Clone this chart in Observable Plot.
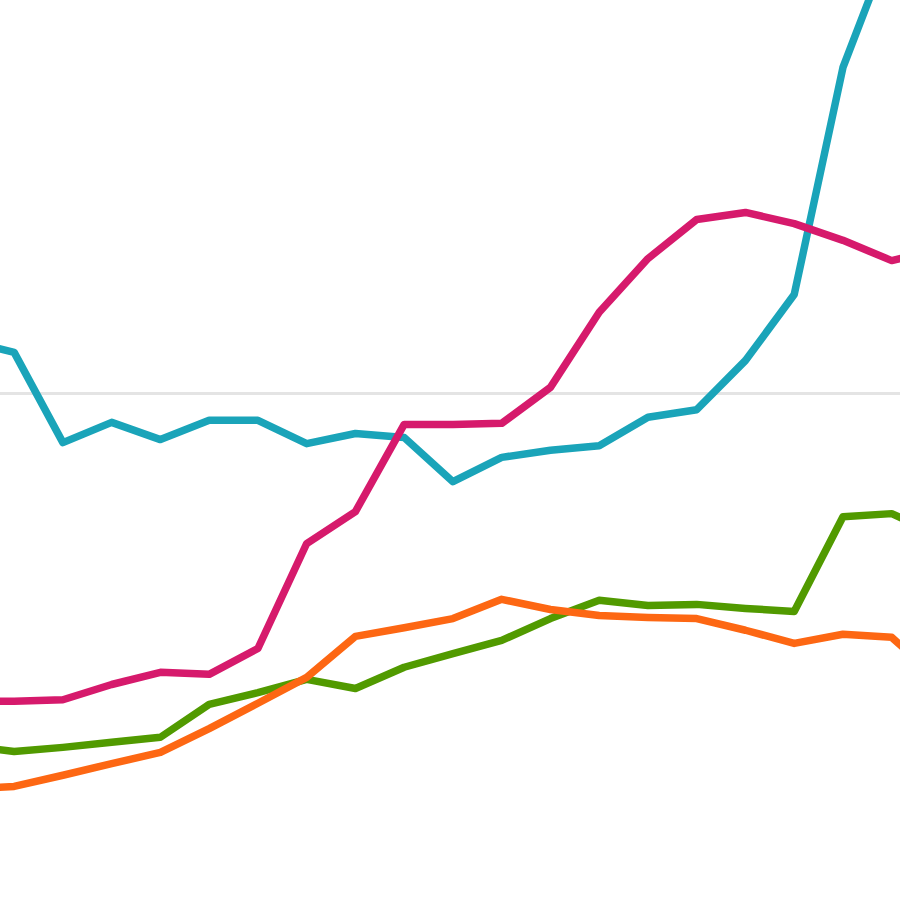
<!DOCTYPE html>
<html>
<head>
<meta charset="utf-8">
<script src="https://cdn.jsdelivr.net/npm/d3@7"></script>
<script src="https://cdn.jsdelivr.net/npm/@observablehq/plot@0.6"></script>
<style>
  html, body { margin: 0; padding: 0; background: #ffffff; }
  #chart svg { display: block; }
</style>
</head>
<body>
<div id="chart"></div>
<script>
const years = [2000,2001,2002,2003,2004,2005,2006,2007,2008,2009,2010,2011,2012,2013,2014,2015,2016,2017,2018,2019,2020];
const seriesNames = ["Series A", "Series B", "Series C", "Series D"];
const seriesColors = ["#1aa4b9", "#d61a6c", "#519a00", "#fd6713"];
const seriesAValues = [110.5,108.1,90.3,94.3,90.9,94.7,94.7,90.1,92.1,91.3,82.6,87.4,88.8,89.7,95.3,96.8,106.5,119.5,164.3,189.3,201.2];
const seriesBValues = [39.3,39.3,39.6,42.6,45.0,44.6,49.7,70.4,76.7,93.9,93.9,94.1,101.2,116.0,126.6,134.3,135.7,133.5,130.2,126.2,128.4];
const seriesCValues = [30.6,29.4,30.2,31.2,32.2,38.7,41.0,43.6,41.8,46.0,48.7,51.3,55.6,59.2,58.2,58.4,57.6,57.0,75.7,76.3,72.0];
const seriesDValues = [21.9,22.5,24.7,27.0,29.2,33.9,38.9,44.0,52.1,53.8,55.6,59.4,57.4,56.2,55.8,55.6,53.3,50.7,52.5,51.9,43.4];
const gridValues = [100];

const allValues = [seriesAValues, seriesBValues, seriesCValues, seriesDValues];
const data = [];
seriesNames.forEach((name, s) => {
  years.forEach((yr, i) => data.push({series: name, year: yr, value: allValues[s][i]}));
});

const chart = Plot.plot({
  width: 900,
  height: 900,
  margin: 0,
  x: {domain: [2000.72, 2019.18], axis: null},
  y: {domain: [0, 177.5], axis: null},
  color: {type: "ordinal", domain: seriesNames, range: seriesColors},
  marks: [
    Plot.ruleY(gridValues, {stroke: "#e4e4e4", strokeWidth: 3}),
    Plot.line(data, {x: "year", y: "value", z: "series", stroke: "series", strokeWidth: 7.5, clip: true})
  ]
});
document.getElementById("chart").append(chart);
</script>
</body>
</html>
